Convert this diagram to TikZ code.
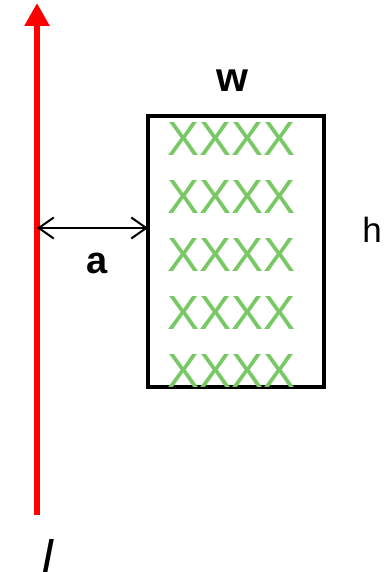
\documentclass[tikz,border=0pt]{standalone}
\usepackage{fontspec}
\setmainfont{Liberation Sans}
\usetikzlibrary{arrows.meta}
\definecolor{wiregreen}{RGB}{120,201,102}
\begin{document}
\begin{tikzpicture}[x=1bp,y=-1bp,
  lbl/.style={inner sep=0pt,outer sep=0pt,anchor=base},
  xrow/.style={inner sep=0pt,outer sep=0pt,anchor=base west,text=wiregreen,font=\fontsize{48bp}{48bp}\selectfont},
  coilbox/.style={draw=black,line width=4.5bp,minimum width=176bp,minimum height=271bp,inner sep=0pt,outer sep=0pt},
  wire/.style={draw=red,line width=5.5bp,-{Triangle[width=24bp,length=23bp]}},
  dim/.style={draw=black,line width=2bp,{Straight Barb[length=15bp,width=21bp]}-{Straight Barb[length=15bp,width=21bp]}}
]
\useasboundingbox (0,0) rectangle (386,572);
\coordinate (wb) at (37,515);
\coordinate (wt) at (37,3);
\draw[wire] (wb) -- (wt);
\node[coilbox] (coil) at (236,251.5) {};
\coordinate (wa) at (37,228);
\coordinate (ca) at (148,228);
\draw[dim] (wa) -- (ca);
\foreach \i/\yy in {1/156,2/213,3/271,4/329,5/387}{
  \node[xrow] (row\i) at (167,\yy) {XXXX};
}
\node[lbl,font=\fontsize{41bp}{41bp}\selectfont\bfseries] (w) at (232,92) {w};
\node[lbl,font=\fontsize{35bp}{35bp}\selectfont] (h) at (372,242) {h};
\node[lbl,font=\fontsize{38bp}{38bp}\selectfont\bfseries] (a) at (97,273) {a};
\node[lbl,font=\fontsize{48bp}{48bp}\selectfont\itshape] (I) at (48,572) {I};
\end{tikzpicture}
\end{document}
